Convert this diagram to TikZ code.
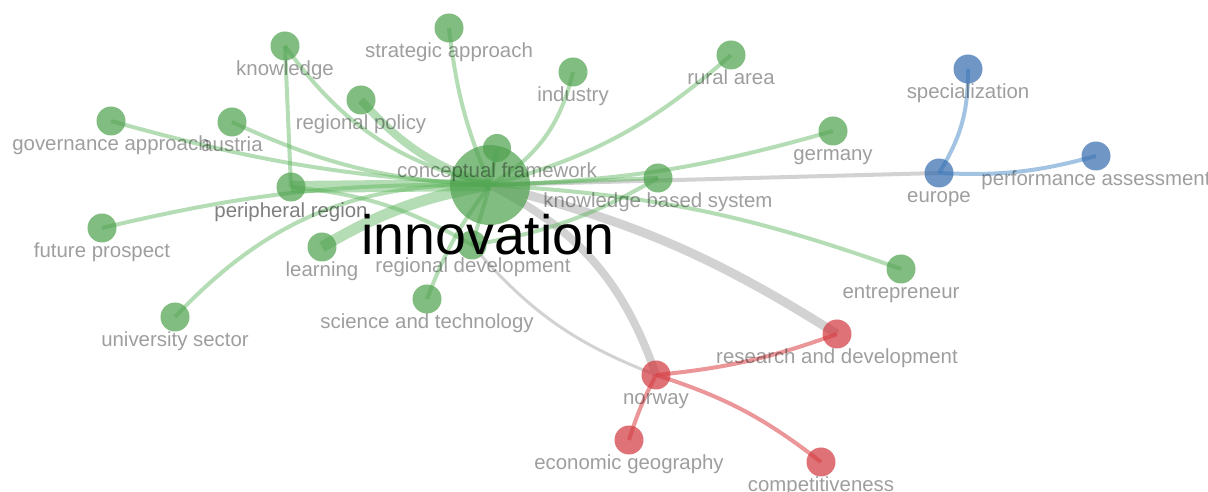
\documentclass[tikz,border=0pt]{standalone}
\usepackage{fontspec}
\setmainfont{Liberation Sans}
\usepackage{tikz}
\usetikzlibrary{backgrounds}

\definecolor{grnnode}{RGB}{80,162,80}
\definecolor{rednode}{RGB}{210,60,65}
\definecolor{bluenode}{RGB}{55,110,175}
\definecolor{grnedge}{RGB}{90,180,90}
\definecolor{grayedge}{RGB}{210,210,210}
\definecolor{rededge}{RGB}{225,95,100}
\definecolor{blueedge}{RGB}{100,155,205}

\tikzset{
	gnode/.style={circle, fill=grnnode, fill opacity=.72, minimum size=29pt, inner sep=0pt},
	rnode/.style={gnode, fill=rednode},
	bnode/.style={gnode, fill=bluenode},
	gedge/.style={draw=grnedge, draw opacity=.45, line width=4pt},
	gyedge/.style={draw=grayedge, line width=4pt},
	redge/.style={draw=rededge, draw opacity=.65, line width=4pt},
	bedge/.style={draw=blueedge, draw opacity=.6, line width=4pt},
	lbl/.style={text=black, text opacity=.38, font=\fontsize{20.4}{24}\selectfont, anchor=base, inner sep=0pt}
}

\begin{document}
\begin{tikzpicture}[x=1pt,y=1pt]
	\useasboundingbox (0,0) rectangle (1208,492);

	% nodes
	\node[gnode, minimum size=80pt] (inno) at (490,307) {};
	\node[gnode, minimum size=28pt] (cf) at (497,344) {};
	\node[gnode] (sa) at (449,464) {};
	\node[gnode] (kn) at (285,446) {};
	\node[gnode] (ind) at (573,420) {};
	\node[gnode] (ra) at (731,437) {};
	\node[gnode] (rp) at (361,392) {};
	\node[gnode] (ga) at (111,371) {};
	\node[gnode] (au) at (232,370) {};
	\node[gnode] (pr) at (291,305) {};
	\node[gnode] (fp) at (102,264) {};
	\node[gnode] (le) at (322,245) {};
	\node[gnode] (rd) at (472,247) {};
	\node[gnode] (st) at (427,193) {};
	\node[gnode] (us) at (175,175) {};
	\node[gnode] (kbs) at (658,314) {};
	\node[gnode] (ger) at (833,361) {};
	\node[gnode] (ent) at (901,223) {};
	\node[bnode] (eu) at (939,319) {};
	\node[bnode] (sp) at (968,423) {};
	\node[bnode] (pa) at (1096,336) {};
	\node[rnode] (rnd) at (837,158) {};
	\node[rnode] (no) at (656,117) {};
	\node[rnode] (eg) at (629,52) {};
	\node[rnode] (co) at (821,30) {};

	\begin{scope}[on background layer]
		% links between clusters
		\draw[gyedge] (inno.center) -- (eu.center);
		\draw[gyedge, line width=9pt] (inno.center) to[bend left=9] (rnd.center);
		\draw[gyedge, line width=8pt] (inno.center) to[bend left=22] (no.center);
		\draw[gyedge, line width=3pt] (rd.center) to[bend right=14] (no.center);
		% green cluster
		\draw[gedge] (inno.center) to[bend left=8] (sa.center);
		\draw[gedge] (inno.center) to[bend left=20] (kn.center);
		\draw[gedge, line width=8pt] (inno.center) to[bend left=15] (rp.center);
		\draw[gedge] (inno.center) to[bend left=6] (ga.center);
		\draw[gedge] (inno.center) to[bend left=11] (au.center);
		\draw[gedge, line width=12pt] (inno.center) -- (pr.center);
		\draw[gedge] (inno.center) to[bend right=7] (fp.center);
		\draw[gedge, line width=11pt] (inno.center) to[bend right=10] (le.center);
		\draw[gedge] (inno.center) to[bend right=24] (us.center);
		\draw[gedge] (inno.center) to[bend right=8] (st.center);
		\draw[gedge] (inno.center) -- (rd.center);
		\draw[gedge] (inno.center) -- (cf.center);
		\draw[gedge] (inno.center) to[bend right=23] (ind.center);
		\draw[gedge] (inno.center) to[bend right=13] (ra.center);
		\draw[gedge] (inno.center) to[bend right=7] (ger.center);
		\draw[gedge] (inno.center) -- (kbs.center);
		\draw[gedge] (inno.center) to[bend left=8] (ent.center);
		\draw[gedge] (kn.center) -- (pr.center);
		\draw[gedge] (pr.center) to[bend left=12] (rd.center);
		\draw[gedge] (rd.center) to[bend right=10] (kbs.center);
		% red cluster
		\draw[redge] (no.center) to[bend right=7] (rnd.center);
		\draw[redge] (no.center) to[bend right=5] (eg.center);
		\draw[redge] (no.center) to[bend left=10] (co.center);
		% blue cluster
		\draw[bedge] (eu.center) to[bend right=16] (sp.center);
		\draw[bedge] (eu.center) to[bend right=9] (pa.center);
	\end{scope}

	% labels
	\node[lbl] (cf-l) at (497,314) {conceptual framework};
	\node[lbl] (sa-l) at (449,434) {strategic approach};
	\node[lbl] (kn-l) at (285,416) {knowledge};
	\node[lbl] (ind-l) at (573,390) {industry};
	\node[lbl] (ra-l) at (731,407) {rural area};
	\node[lbl] (rp-l) at (361,362) {regional policy};
	\node[lbl] (ga-l) at (111,341) {governance approach};
	\node[lbl] (au-l) at (232,340) {austria};
	\node[lbl, text opacity=.5] (pr-l) at (291,274) {peripheral region};
	\node[lbl] (fp-l) at (102,234) {future prospect};
	\node[lbl] (le-l) at (322,215) {learning};
	\node[lbl] (rd-l) at (473,219) {regional development};
	\node[lbl] (st-l) at (427,163) {science and technology};
	\node[lbl] (us-l) at (175,145) {university sector};
	\node[lbl] (kbs-l) at (658,284) {knowledge based system};
	\node[lbl] (ger-l) at (833,331) {germany};
	\node[lbl] (ent-l) at (901,193) {entrepreneur};
	\node[lbl] (eu-l) at (939,289) {europe};
	\node[lbl] (sp-l) at (968,393) {specialization};
	\node[lbl] (pa-l) at (1096,306) {performance assessment};
	\node[lbl] (rnd-l) at (837,128) {research and development};
	\node[lbl] (no-l) at (656,87) {norway};
	\node[lbl] (eg-l) at (629,22) {economic geography};
	\node[lbl] (co-l) at (821,0) {competitiveness};
	\node[anchor=base, inner sep=0pt, font=\fontsize{55.5}{60}\selectfont] (inno-l) at (488,237) {innovation};
\end{tikzpicture}
\end{document}
